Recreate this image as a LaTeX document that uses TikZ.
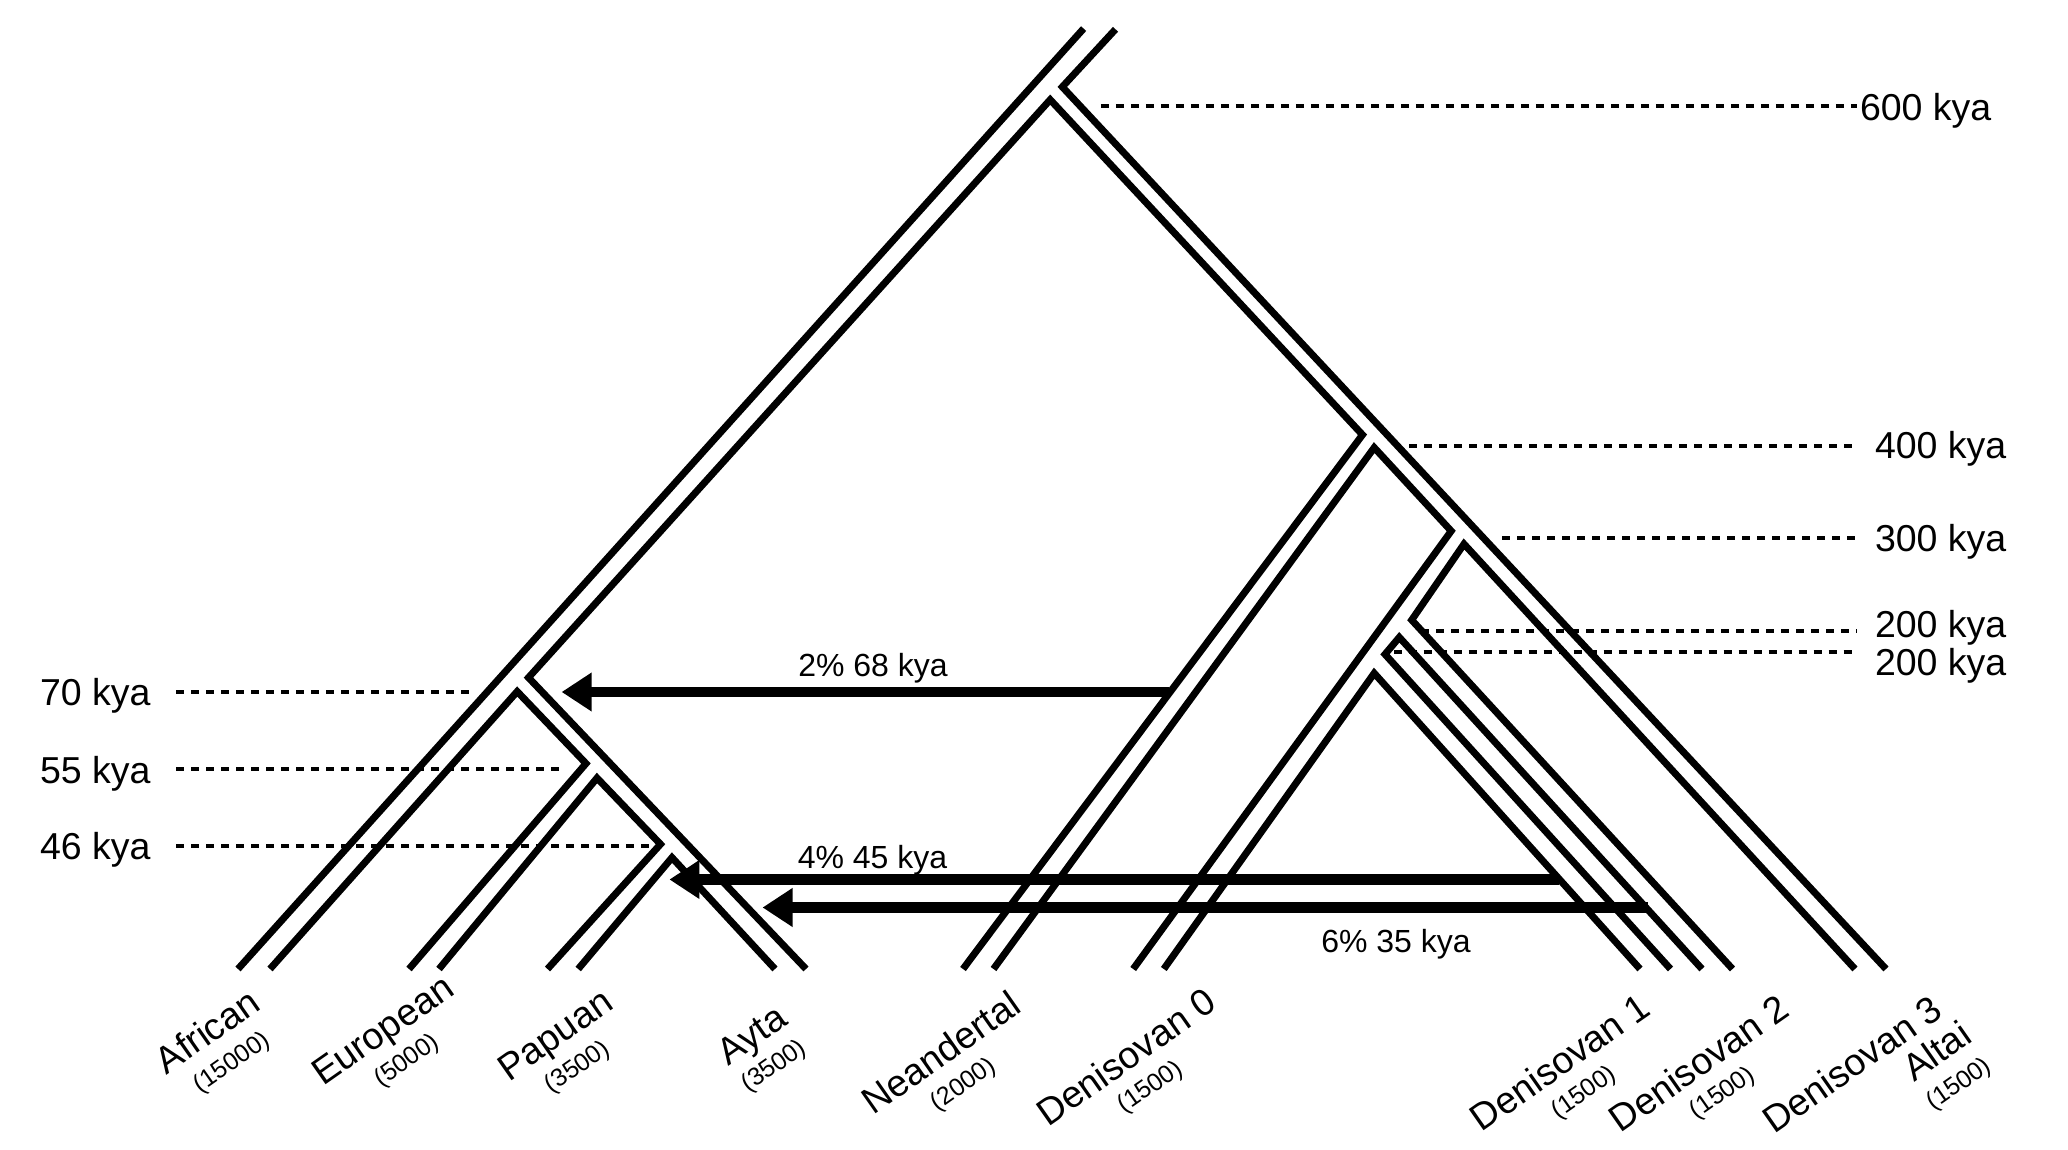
\documentclass[tikz,border=0pt]{standalone}
\usepackage{fontspec}
\setmainfont{Liberation Sans}
\usetikzlibrary{arrows.meta}
\begin{document}
\begin{tikzpicture}[x=0.5pt,y=-0.5pt,
  tube/.style={line width=3.5pt,line join=miter,line cap=butt},
  guide/.style={line width=2pt,dash pattern=on 4pt off 3.5pt},
  migr/.style={line width=5.25pt,-{Triangle[length=15pt,width=18.4pt]}},
  kya/.style={font=\fontsize{18.75}{22}\selectfont,inner sep=0pt,outer sep=0pt,anchor=base west},
  pct/.style={font=\fontsize{16}{19}\selectfont,inner sep=0pt,outer sep=0pt,anchor=base},
  popname/.style={font=\fontsize{18.75}{22}\selectfont,inner sep=0pt,outer sep=0pt,anchor=base,rotate=35},
  popsize/.style={font=\fontsize{12.5}{15}\selectfont,inner sep=0pt,outer sep=0pt,anchor=base,rotate=35}]
\useasboundingbox (0,0) rectangle (2068,1150);

% ---- tree points ----
\coordinate (TL) at (1083.6,28.6);
\coordinate (TR) at (1115.5,29.3);
\coordinate (K600) at (1062.3,86.9);
\coordinate (A600) at (1050.2,99.7);
\coordinate (K70) at (528.5,677.6);
\coordinate (A70) at (517.2,691.5);
\coordinate (K55) at (586,763.5);
\coordinate (A55) at (597,778);
\coordinate (K46) at (660.5,844.2);
\coordinate (A46) at (672,857.6);
\coordinate (K400) at (1362.5,434.8);
\coordinate (A400) at (1374.2,447.6);
\coordinate (K300) at (1451.2,531);
\coordinate (A300) at (1464,544);
\coordinate (K200a) at (1411.7,620);
\coordinate (A200a) at (1399.3,637.3);
\coordinate (K200b) at (1385,654.3);
\coordinate (A200b) at (1374.2,673.2);
% bottoms
\coordinate (AfrL) at (238,969);   \coordinate (AfrR) at (270,969);
\coordinate (EurL) at (409,969);   \coordinate (EurR) at (439,969);
\coordinate (PapL) at (547.5,969); \coordinate (PapR) at (578.2,969);
\coordinate (AytL) at (775,969);   \coordinate (AytR) at (806,969);
\coordinate (NeaL) at (963,969);   \coordinate (NeaR) at (993.5,969);
\coordinate (D0L) at (1133.2,969); \coordinate (D0R) at (1163.8,969);
\coordinate (D1L) at (1640,969);   \coordinate (D1R) at (1670.5,969);
\coordinate (D2L) at (1702,969);   \coordinate (D2R) at (1732.5,969);
\coordinate (D3L) at (1855,969);   \coordinate (D3R) at (1886,969);

% ---- tubes ----
\draw[tube] (TL) -- (AfrL);
\draw[tube] (TR) -- (K600) -- (D3R);
\draw[tube] (AytR) -- (K70) -- (A600) -- (K400) -- (NeaL);
\draw[tube] (AfrR) -- (A70) -- (K55) -- (EurL);
\draw[tube] (EurR) -- (A55) -- (K46) -- (PapL);
\draw[tube] (PapR) -- (A46) -- (AytL);
\draw[tube] (NeaR) -- (A400) -- (K300) -- (D0L);
\draw[tube] (D3L) -- (A300) -- (K200a) -- (D2R);
\draw[tube] (D2L) -- (A200a) -- (K200b) -- (D1R);
\draw[tube] (D0R) -- (A200b) -- (D1L);

% ---- time guides ----
\coordinate (g600a) at (1100.8,106.3); \coordinate (g600b) at (1857,106.3);
\coordinate (g400a) at (1409,445.5);   \coordinate (g400b) at (1857,445.5);
\coordinate (g300a) at (1502.4,538);   \coordinate (g300b) at (1857,538);
\coordinate (g200a) at (1421,630.5);   \coordinate (g200b) at (1857,630.5);
\coordinate (g200c) at (1393.5,652.2); \coordinate (g200d) at (1857,652.2);
\coordinate (g70a) at (176,692);       \coordinate (g70b) at (469.4,692);
\coordinate (g55a) at (176,768.8);     \coordinate (g55b) at (562.3,768.8);
\coordinate (g46a) at (176,846.3);     \coordinate (g46b) at (652.2,846.3);
\draw[guide] (g600a) -- (g600b);
\draw[guide] (g400a) -- (g400b);
\draw[guide] (g300a) -- (g300b);
\draw[guide] (g200a) -- (g200b);
\draw[guide] (g200c) -- (g200d);
\draw[guide] (g70a) -- (g70b);
\draw[guide] (g55a) -- (g55b);
\draw[guide] (g46a) -- (g46b);

\node[kya] (t600) at (1860,120.7) {600 kya};
\node[kya] (t400) at (1875,458.9) {400 kya};
\node[kya] (t300) at (1875,551) {300 kya};
\node[kya] (t200a) at (1875,637) {200 kya};
\node[kya] (t200b) at (1875,675.5) {200 kya};
\node[kya] (t70) at (40,705.5) {70 kya};
\node[kya] (t55) at (40,783) {55 kya};
\node[kya] (t46) at (40,859.8) {46 kya};

% ---- migrations ----
\coordinate (m1s) at (1169,692);   \coordinate (m1t) at (561.6,692);
\coordinate (m2s) at (1559,879.5); \coordinate (m2t) at (669.4,879.5);
\coordinate (m3s) at (1648,907.5); \coordinate (m3t) at (762.5,907.5);
\draw[migr] (m1s) -- (m1t);
\draw[migr] (m2s) -- (m2t);
\draw[migr] (m3s) -- (m3t);
\node[pct] (p1) at (873,676.3) {2\% 68 kya};
\node[pct] (p2) at (872.5,868) {4\% 45 kya};
\node[pct] (p3) at (1396,952.5) {6\% 35 kya};

% ---- population labels ----
\node[popname] (nAfr) at (214.7,1041.8) {African};
\node[popsize] (sAfr) at (236,1068.5) {(15000)};
\node[popname] (nEur) at (389.7,1040) {European};
\node[popsize] (sEur) at (411,1066.5) {(5000)};
\node[popname] (nPap) at (562.3,1045) {Papuan};
\node[popsize] (sPap) at (581.5,1073) {(3500)};
\node[popname] (nAyt) at (758.7,1044.7) {Ayta};
\node[popsize] (sAyt) at (778,1072) {(3500)};
\node[popname] (nNea) at (948.2,1063.2) {Neandertal};
\node[popsize] (sNea) at (967.5,1090.5) {(2000)};
\node[popname] (nD0) at (1133.5,1067.7) {Denisovan 0};
\node[popsize] (sD0) at (1154.3,1093) {(1500)};
\node[popname] (nD1) at (1567.3,1073) {Denisovan 1};
\node[popsize] (sD1) at (1587.8,1098.3) {(1500)};
\node[popname] (nD2) at (1706.2,1074) {Denisovan 2};
\node[popsize] (sD2) at (1726.5,1099) {(1500)};
\node[popname] (nD3) at (1859.6,1075) {Denisovan 3};
\node[popname] (nAlt) at (1944,1062) {Altai};
\node[popsize] (sD3) at (1963,1090) {(1500)};
\end{tikzpicture}
\end{document}
